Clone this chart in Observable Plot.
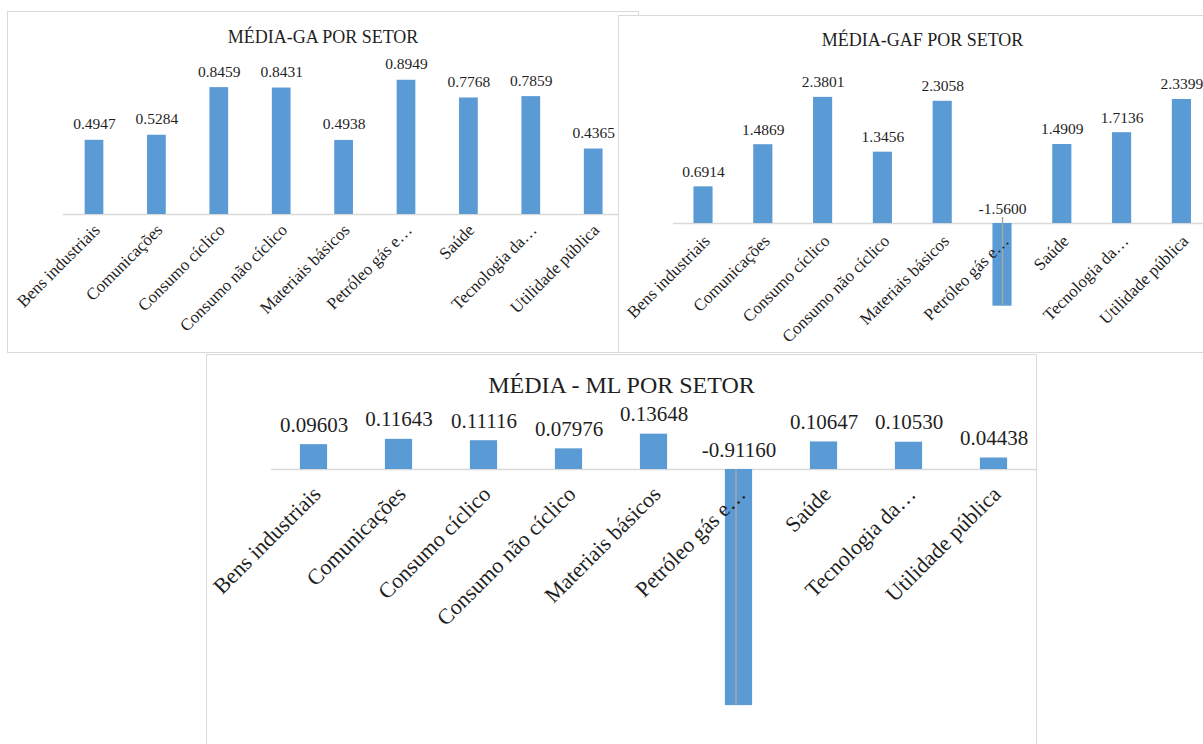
<!DOCTYPE html>
<html>
<head>
<meta charset="utf-8">
<script src="https://cdn.jsdelivr.net/npm/d3@7"></script>
<script src="https://cdn.jsdelivr.net/npm/@observablehq/plot@0.6"></script>
<style>
html, body { margin: 0; padding: 0; background: #fff; }
body { width: 1203px; height: 744px; overflow: hidden; position: relative;
  font-family: "Liberation Serif", Tinos, "Times New Roman", "DejaVu Serif", serif; color: #1f1f1f; }
.panel { position: absolute; background: #fff; overflow: hidden; }
.panel .frame { position: absolute; left: 0; top: 0; right: 0; bottom: 0;
  border: 1.5px solid #d9d9d9; pointer-events: none; }
.panel svg { position: absolute; left: 0; top: 0; }
.panel svg text { font-family: "Liberation Serif", Tinos, "Times New Roman", "DejaVu Serif", serif; }
.title { position: absolute; left: 0; right: 0; text-align: center; white-space: nowrap; line-height: 1; color: #1f1f1f; }
</style>
</head>
<body>
<script>
// ---- data ----
const categories = ["Bens industriais", "Comunicações", "Consumo cíclico", "Consumo não cíclico",
  "Materiais básicos", "Petróleo gás e…", "Saúde", "Tecnologia da…", "Utilidade pública"];
const gaValues  = [0.4947, 0.5284, 0.8459, 0.8431, 0.4938, 0.8949, 0.7768, 0.7859, 0.4365];
const gafValues = [0.6914, 1.4869, 2.3801, 1.3456, 2.3058, -1.5600, 1.4909, 1.7136, 2.3399];
const mlValues  = [0.09603, 0.11643, 0.11116, 0.07976, 0.13648, -0.91160, 0.10647, 0.10530, 0.04438];
const titles = ["MÉDIA-GA POR SETOR", "MÉDIA-GAF POR SETOR", "MÉDIA - ML POR SETOR"];

const FONT = '"Liberation Serif", Tinos, "Times New Roman", "DejaVu Serif", serif';
const INK = "#1f1f1f";

function makePanel(cfg) {
  const panel = document.createElement("div");
  panel.className = "panel";
  Object.assign(panel.style, {left: cfg.left + "px", top: cfg.top + "px",
    width: cfg.width + "px", height: cfg.height + "px", zIndex: cfg.z});

  const data = categories.map((c, i) => ({
    cat: c, v: cfg.values[i], zero: 0,
    ly: Math.max(0, cfg.values[i]),
    label: cfg.values[i].toFixed(cfg.decimals)
  }));

  const chart = Plot.plot({
    width: cfg.width, height: cfg.plotHeight,
    marginTop: cfg.mt, marginBottom: cfg.mb, marginLeft: cfg.ml, marginRight: cfg.mr,
    x: {domain: categories, axis: null, paddingInner: cfg.pad, paddingOuter: cfg.pad / 2, round: false},
    y: {domain: cfg.yDomain, axis: null},
    style: {fontFamily: FONT, background: "transparent", color: INK, overflow: "visible"},
    marks: [
      Plot.ruleY([0], {stroke: "#d9d9d9", strokeWidth: 1.5}),
      Plot.barY(data, {x: "cat", y: "v", fill: "#5b9bd5"}),
      Plot.ruleX(data.filter(d => d.v < 0), {x: "cat", y1: "zero", y2: "v",
        stroke: "#a6a6a6", strokeWidth: 1.5, dx: cfg.leadDx, insetTop: -cfg.leadExt}),
      Plot.text(data, {x: "cat", y: "ly", text: "label", lineAnchor: "bottom",
        dy: -cfg.valOff, fontSize: cfg.valSize, fill: INK}),
      Plot.text(data, {x: "cat", y: "zero", text: "cat", rotate: -45, textAnchor: "end",
        lineAnchor: "top", dy: cfg.catDy, dx: cfg.catDx, fontSize: cfg.catSize, fill: INK})
    ]
  });
  panel.appendChild(chart);

  const t = document.createElement("div");
  t.className = "title";
  t.textContent = cfg.title;
  Object.assign(t.style, {top: cfg.titleTop + "px", fontSize: cfg.titleSize + "px"});
  panel.appendChild(t);

  const frame = document.createElement("div");
  frame.className = "frame";
  panel.appendChild(frame);
  document.body.appendChild(panel);
}

makePanel({left: 7, top: 11, width: 632, height: 342, plotHeight: 342, z: 1,
  values: gaValues, decimals: 4, yDomain: [0, 1],
  mt: 53, mb: 139, ml: 55.8, mr: 14.6, pad: 0.7,
  valOff: 11, valSize: 15.5, catSize: 17, catDy: 8, catDx: -2,
  leadDx: 0, leadExt: 0,
  title: titles[0], titleSize: 18, titleTop: 16.6});

makePanel({left: 618, top: 15, width: 609, height: 338, plotHeight: 338, z: 2,
  values: gafValues, decimals: 4, yDomain: [-2, 2.5],
  mt: 75.5, mb: 24, ml: 55.1, mr: 15.7, pad: 0.68,
  valOff: 10, valSize: 15.5, catSize: 17, catDy: 10, catDx: -1,
  leadDx: 0, leadExt: 6,
  title: titles[1], titleSize: 18, titleTop: 16.4});

makePanel({left: 206, top: 354, width: 831, height: 400, plotHeight: 390, z: 3,
  values: mlValues, decimals: 5, yDomain: [-1, 0.2],
  mt: 63.2, mb: 16, ml: 65, mr: 1, pad: 0.68,
  valOff: 13, valSize: 21, catSize: 22, catDy: 15, catDx: -3,
  leadDx: -3, leadExt: 0,
  title: titles[2], titleSize: 24, titleTop: 18.9});
</script>
</body>
</html>
